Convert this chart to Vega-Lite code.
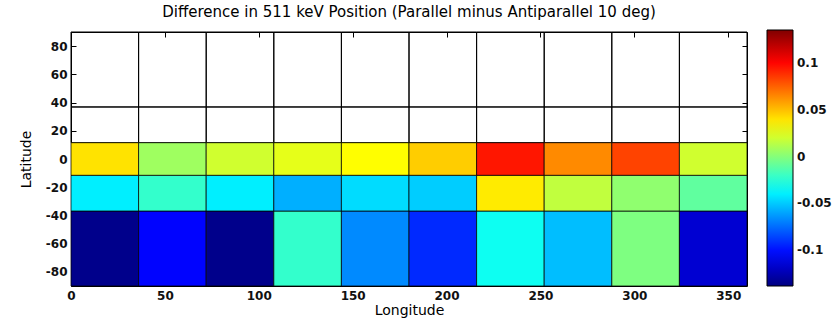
{
  "$schema": "https://vega.github.io/schema/vega-lite/v6.json",
  "autosize": {"type": "none"},
  "padding": {"left": 71, "top": 32, "right": 91, "bottom": 34},
  "width": 676,
  "height": 254,
  "background": "white",
  "config": {
    "font": "DejaVu Sans",
    "view": {"stroke": "black", "strokeWidth": 1},
    "axis": {
      "labelFont": "DejaVu Sans",
      "labelFontSize": 12,
      "labelFontWeight": "bold",
      "labelColor": "#111111",
      "labelFlush": false,
      "labelExpr": "replace(datum.label, '\u2212', '-')",
      "titleFont": "DejaVu Sans",
      "titleFontSize": 14,
      "titleFontWeight": "normal",
      "titleColor": "black",
      "domain": false,
      "grid": false,
      "tickColor": "black",
      "tickSize": -5,
      "labelPadding": 5
    }
  },
  "title": {
    "text": "Difference in 511 keV Position (Parallel minus Antiparallel 10 deg)",
    "fontSize": 15,
    "fontWeight": "normal",
    "font": "DejaVu Sans",
    "color": "black",
    "anchor": "middle",
    "offset": 10
  },
  "data": {
    "values": [
      {"lon0": 0, "lon1": 36, "lat0": -90, "lat1": -36.87, "value": -0.135},
      {"lon0": 36, "lon1": 72, "lat0": -90, "lat1": -36.87, "value": -0.103},
      {"lon0": 72, "lon1": 108, "lat0": -90, "lat1": -36.87, "value": -0.135},
      {"lon0": 108, "lon1": 144, "lat0": -90, "lat1": -36.87, "value": -0.022},
      {"lon0": 144, "lon1": 180, "lat0": -90, "lat1": -36.87, "value": -0.067},
      {"lon0": 180, "lon1": 216, "lat0": -90, "lat1": -36.87, "value": -0.093},
      {"lon0": 216, "lon1": 252, "lat0": -90, "lat1": -36.87, "value": -0.032},
      {"lon0": 252, "lon1": 288, "lat0": -90, "lat1": -36.87, "value": -0.053},
      {"lon0": 288, "lon1": 324, "lat0": -90, "lat1": -36.87, "value": -0.002},
      {"lon0": 324, "lon1": 360, "lat0": -90, "lat1": -36.87, "value": -0.116},

      {"lon0": 0, "lon1": 36, "lat0": -36.87, "lat1": -11.54, "value": -0.040},
      {"lon0": 36, "lon1": 72, "lat0": -36.87, "lat1": -11.54, "value": -0.022},
      {"lon0": 72, "lon1": 108, "lat0": -36.87, "lat1": -11.54, "value": -0.040},
      {"lon0": 108, "lon1": 144, "lat0": -36.87, "lat1": -11.54, "value": -0.057},
      {"lon0": 144, "lon1": 180, "lat0": -36.87, "lat1": -11.54, "value": -0.045},
      {"lon0": 180, "lon1": 216, "lat0": -36.87, "lat1": -11.54, "value": -0.049},
      {"lon0": 216, "lon1": 252, "lat0": -36.87, "lat1": -11.54, "value": 0.038},
      {"lon0": 252, "lon1": 288, "lat0": -36.87, "lat1": -11.54, "value": 0.016},
      {"lon0": 288, "lon1": 324, "lat0": -36.87, "lat1": -11.54, "value": 0.003},
      {"lon0": 324, "lon1": 360, "lat0": -36.87, "lat1": -11.54, "value": -0.010},

      {"lon0": 0, "lon1": 36, "lat0": -11.54, "lat1": 11.54, "value": 0.040},
      {"lon0": 36, "lon1": 72, "lat0": -11.54, "lat1": 11.54, "value": 0.007},
      {"lon0": 72, "lon1": 108, "lat0": -11.54, "lat1": 11.54, "value": 0.020},
      {"lon0": 108, "lon1": 144, "lat0": -11.54, "lat1": 11.54, "value": 0.026},
      {"lon0": 144, "lon1": 180, "lat0": -11.54, "lat1": 11.54, "value": 0.033},
      {"lon0": 180, "lon1": 216, "lat0": -11.54, "lat1": 11.54, "value": 0.046},
      {"lon0": 216, "lon1": 252, "lat0": -11.54, "lat1": 11.54, "value": 0.095},
      {"lon0": 252, "lon1": 288, "lat0": -11.54, "lat1": 11.54, "value": 0.064},
      {"lon0": 288, "lon1": 324, "lat0": -11.54, "lat1": 11.54, "value": 0.083},
      {"lon0": 324, "lon1": 360, "lat0": -11.54, "lat1": 11.54, "value": 0.020},

      {"lon0": 0, "lon1": 36, "lat0": 11.54, "lat1": 36.87, "value": null},
      {"lon0": 36, "lon1": 72, "lat0": 11.54, "lat1": 36.87, "value": null},
      {"lon0": 72, "lon1": 108, "lat0": 11.54, "lat1": 36.87, "value": null},
      {"lon0": 108, "lon1": 144, "lat0": 11.54, "lat1": 36.87, "value": null},
      {"lon0": 144, "lon1": 180, "lat0": 11.54, "lat1": 36.87, "value": null},
      {"lon0": 180, "lon1": 216, "lat0": 11.54, "lat1": 36.87, "value": null},
      {"lon0": 216, "lon1": 252, "lat0": 11.54, "lat1": 36.87, "value": null},
      {"lon0": 252, "lon1": 288, "lat0": 11.54, "lat1": 36.87, "value": null},
      {"lon0": 288, "lon1": 324, "lat0": 11.54, "lat1": 36.87, "value": null},
      {"lon0": 324, "lon1": 360, "lat0": 11.54, "lat1": 36.87, "value": null},

      {"lon0": 0, "lon1": 36, "lat0": 36.87, "lat1": 90, "value": null},
      {"lon0": 36, "lon1": 72, "lat0": 36.87, "lat1": 90, "value": null},
      {"lon0": 72, "lon1": 108, "lat0": 36.87, "lat1": 90, "value": null},
      {"lon0": 108, "lon1": 144, "lat0": 36.87, "lat1": 90, "value": null},
      {"lon0": 144, "lon1": 180, "lat0": 36.87, "lat1": 90, "value": null},
      {"lon0": 180, "lon1": 216, "lat0": 36.87, "lat1": 90, "value": null},
      {"lon0": 216, "lon1": 252, "lat0": 36.87, "lat1": 90, "value": null},
      {"lon0": 252, "lon1": 288, "lat0": 36.87, "lat1": 90, "value": null},
      {"lon0": 288, "lon1": 324, "lat0": 36.87, "lat1": 90, "value": null},
      {"lon0": 324, "lon1": 360, "lat0": 36.87, "lat1": 90, "value": null}
    ]
  },
  "layer": [
    {
      "transform": [{"filter": "datum.value === null"}],
      "mark": {"type": "rect", "fill": "white", "fillOpacity": 0, "stroke": "black", "strokeWidth": 1},
      "encoding": {
        "x": {
          "field": "lon0", "type": "quantitative",
          "scale": {"domain": [0, 360], "nice": false, "zero": false},
          "axis": {"orient": "bottom", "values": [0, 50, 100, 150, 200, 250, 300, 350], "title": "Longitude", "labelPadding": 9, "titlePadding": 2}
        },
        "x2": {"field": "lon1"},
        "y": {
          "field": "lat0", "type": "quantitative",
          "scale": {"domain": [-90, 90], "nice": false, "zero": false},
          "axis": {"orient": "left", "values": [-80, -60, -40, -20, 0, 20, 40, 60, 80], "title": "Latitude", "labelPadding": 9, "titlePadding": 12}
        },
        "y2": {"field": "lat1"}
      }
    },
    {
      "transform": [{"filter": "datum.value !== null"}],
      "mark": {"type": "rect", "stroke": "black", "strokeWidth": 1, "strokeOpacity": 0.75},
      "encoding": {
        "x": {
          "field": "lon0", "type": "quantitative",
          "axis": {"orient": "top", "values": [0, 50, 100, 150, 200, 250, 300, 350], "labels": false, "title": null}
        },
        "x2": {"field": "lon1"},
        "y": {
          "field": "lat0", "type": "quantitative",
          "axis": {"orient": "right", "values": [-80, -60, -40, -20, 0, 20, 40, 60, 80], "labels": false, "title": null}
        },
        "y2": {"field": "lat1"},
        "color": {
          "field": "value", "type": "quantitative",
          "scale": {
            "type": "linear",
            "domain": [-0.138, -0.1039, -0.0356, 0.0326, 0.1009, 0.135],
            "range": ["#000080", "#0000ff", "#00ffff", "#ffff00", "#ff0000", "#800000"],
            "interpolate": "rgb",
            "clamp": true
          },
          "legend": {
            "orient": "none",
            "legendX": 696,
            "legendY": -2,
            "direction": "vertical",
            "title": null,
            "gradientLength": 256,
            "gradientThickness": 26,
            "gradientStrokeColor": "black",
            "gradientStrokeWidth": 1,
            "values": [-0.1, -0.05, 0, 0.05, 0.1],
            "labelExpr": "datum.value === 0 ? '0' : replace(format(datum.value, '.2~f'), '\u2212', '-')",
            "labelFont": "DejaVu Sans",
            "labelFontSize": 12,
            "labelFontWeight": "bold",
            "labelColor": "#111111",
            "labelOffset": 4
          }
        }
      }
    }
  ],
  "resolve": {"axis": {"x": "independent", "y": "independent"}}
}
